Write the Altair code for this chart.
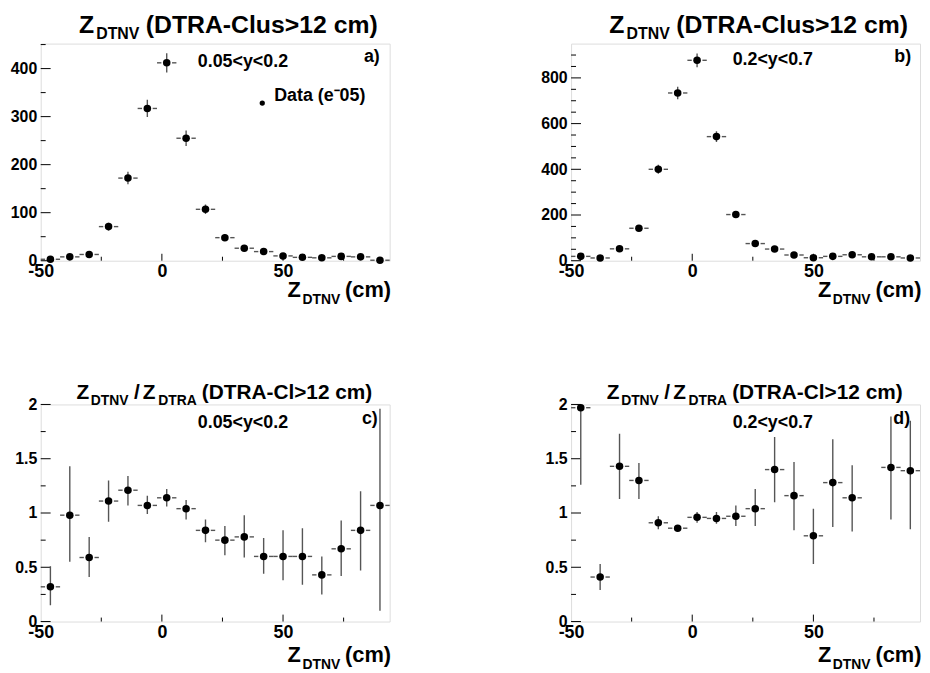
import altair as alt
import pandas as pd

FONT = "Liberation Sans"
ERR = "#555555"

# ---------------- data ----------------
z_bins = [-46, -38, -30, -22, -14, -6, 2, 10, 18, 26, 34, 42, 50, 58, 66, 74, 82, 90]
bin_half = 4
gap = 2.2

counts_a = [3, 8, 13, 71, 172, 317, 412, 255, 107, 48, 26, 19, 10, 7, 6, 9, 8, 1]
err_a = [2, 3, 4, 8, 13, 18, 20, 16, 10, 7, 5, 4, 3, 3, 2, 3, 3, 1]

counts_b = [19, 12, 52, 142, 400, 734, 877, 543, 202, 75, 51, 25, 13, 19, 26, 17, 17, 12]
err_b = [4, 3, 7, 12, 20, 27, 30, 23, 14, 9, 7, 5, 4, 4, 5, 4, 4, 3]

ratio_c = [0.32, 0.98, 0.59, 1.11, 1.21, 1.07, 1.14, 1.04, 0.84, 0.75, 0.78, 0.60, 0.60, 0.60, 0.43, 0.67, 0.84, 1.07]
lo_c = [0.15, 0.55, 0.41, 0.92, 1.07, 0.99, 1.06, 0.94, 0.73, 0.61, 0.59, 0.44, 0.38, 0.34, 0.25, 0.42, 0.47, 0.10]
hi_c = [0.51, 1.43, 0.78, 1.30, 1.34, 1.16, 1.22, 1.12, 0.94, 0.88, 0.98, 0.77, 0.84, 0.86, 0.60, 0.93, 1.20, 1.96]

ratio_d = [1.97, 0.41, 1.43, 1.30, 0.91, 0.86, 0.96, 0.95, 0.97, 1.04, 1.40, 1.16, 0.79, 1.28, 1.14, None, 1.42, 1.39]
lo_d = [1.26, 0.29, 1.13, 1.13, 0.85, 0.84, 0.91, 0.90, 0.88, 0.88, 1.10, 0.84, 0.53, 0.87, 0.83, None, 0.94, 0.85]
hi_d = [2.00, 0.53, 1.73, 1.46, 0.97, 0.88, 1.01, 1.01, 1.07, 1.22, 1.70, 1.47, 1.04, 1.68, 1.44, None, 1.89, 1.85]

x_labels = [-50, 0, 50]
x_major_ticks = [0, 50]
x_minor_ticks = [-25, 25, 75]

y_labels_a = [0, 100, 200, 300, 400]
y_minor_a = [50, 150, 250, 350, 450]
y_labels_b = [0, 200, 400, 600, 800]
y_minor_b = [50, 100, 150, 250, 300, 350, 450, 500, 550, 650, 700, 750, 850, 900]
y_labels_r = [0, 0.5, 1, 1.5, 2]
y_minor_r = [0.25, 0.75, 1.25, 1.75]

W, H = 352, 219
XDOM = [-50, 94]


def txt(s, x, y, size, align="left"):
    return alt.Chart(pd.DataFrame({"t": [s]})).mark_text(
        font=FONT, fontSize=size, fontWeight="bold", align=align,
        baseline="alphabetic", color="black"
    ).encode(text="t:N", x=alt.value(x), y=alt.value(y))


def panel(vals, lo, hi, ydom, ylabels, ymajor, yminor, texts):
    df = pd.DataFrame({"z": z_bins, "v": vals, "lo": lo, "hi": hi}).dropna()
    df["l1"] = df["z"] - bin_half
    df["l2"] = df["z"] - gap
    df["r1"] = df["z"] + gap
    df["r2"] = df["z"] + bin_half

    xs = alt.Scale(domain=XDOM, nice=False, zero=False)
    ys = alt.Scale(domain=ydom, nice=False, zero=False)
    xax = alt.Axis(values=x_labels, title=None, ticks=False, domain=False, grid=False,
                   labelFont=FONT, labelFontSize=18, labelFontWeight="bold",
                   labelColor="black", labelPadding=2, labelFlush=False,
                   labelOverlap=False, labelBound=False, labelExpr="'' + datum.value")
    yax = alt.Axis(values=ylabels, title=None, ticks=False, domain=False,
                   grid=False, labelFont=FONT, labelFontSize=16, labelFontWeight="bold",
                   labelColor="black", labelPadding=4, labelFlush=False,
                   labelOverlap=False, labelBound=False, labelExpr="'' + datum.value")

    def X(f):
        return alt.X(f"{f}:Q", scale=xs, axis=xax)

    def Y(f):
        return alt.Y(f"{f}:Q", scale=ys, axis=yax)

    base = alt.Chart(df)
    vbar = base.mark_rule(color=ERR, strokeWidth=1.4, clip=True).encode(
        x=X("z"), y=Y("lo"), y2="hi:Q")
    hl = base.mark_rule(color=ERR, strokeWidth=1.4).encode(x=X("l1"), x2="l2:Q", y=Y("v"))
    hr = base.mark_rule(color=ERR, strokeWidth=1.4).encode(x=X("r1"), x2="r2:Q", y=Y("v"))
    pts = base.mark_circle(size=58, color="black", opacity=1).encode(x=X("z"), y=Y("v"))

    xt_maj = alt.Chart(pd.DataFrame({"k": x_major_ticks})).mark_rule(
        color="black", strokeWidth=1).encode(x=X("k"), y=alt.value(H), y2=alt.value(H - 7))
    xt_min = alt.Chart(pd.DataFrame({"k": x_minor_ticks})).mark_rule(
        color="black", strokeWidth=1).encode(x=X("k"), y=alt.value(H), y2=alt.value(H - 4))
    yt_maj = alt.Chart(pd.DataFrame({"k": ymajor})).mark_rule(
        color="black", strokeWidth=1).encode(y=Y("k"), x=alt.value(0), x2=alt.value(10))
    yt_min = alt.Chart(pd.DataFrame({"k": yminor})).mark_rule(
        color="black", strokeWidth=1).encode(y=Y("k"), x=alt.value(0), x2=alt.value(5))

    layers = [xt_maj, xt_min, yt_maj, yt_min, vbar, hl, hr, pts] + texts
    return alt.layer(*layers).properties(width=W, height=H)


def top_title():
    return [
        txt("Z", 38.5, -11, 25),
        txt("DTNV", 56, -5, 16),
        txt("(DTRA-Clus>12 cm)", 106, -11, 25),
    ]


def bottom_title():
    return [
        txt("Z", 36, -5, 21),
        txt("DTNV", 50.5, 1, 14),
        txt("/", 94, -5, 21),
        txt("Z", 103, -5, 21),
        txt("DTRA", 118.5, 1, 14),
        txt("(DTRA-Cl>12 cm)", 162.5, -5, 21),
    ]


def axis_title(dy):
    return [
        txt("Z", 249, H + dy, 22),
        txt("DTNV", 264, H + dy + 7, 14),
        txt("(cm)", 307, H + dy, 22),
    ]


legend_dot = alt.Chart(pd.DataFrame({"t": ["Data (e⁻05)"]})).mark_circle(
    size=28, color="black", opacity=1).encode(x=alt.value(223.5), y=alt.value(60))

pa = panel(counts_a, [c - e for c, e in zip(counts_a, err_a)],
           [c + e for c, e in zip(counts_a, err_a)], [0, 452],
           y_labels_a, y_labels_a, y_minor_a,
           top_title() + axis_title(37) + [
               txt("0.05<y<0.2", 158.5, 24, 18),
               txt("a)", 342, 19, 18, align="right"),
               legend_dot,
               txt("Data (e⁻05)", 235.5, 58, 18),
           ])

pb = panel(counts_b, [c - e for c, e in zip(counts_b, err_b)],
           [c + e for c, e in zip(counts_b, err_b)], [0, 950],
           y_labels_b, y_labels_b, y_minor_b,
           top_title() + axis_title(37) + [
               txt("0.2<y<0.7", 163, 22, 18),
               txt("b)", 343, 19, 18, align="right"),
           ])

pc = panel(ratio_c, lo_c, hi_c, [0, 2], y_labels_r, y_labels_r, y_minor_r,
           bottom_title() + axis_title(41) + [
               txt("0.05<y<0.2", 158.5, 24, 18),
               txt("c)", 340, 20, 18, align="right"),
           ])

pd_ = panel(ratio_d, lo_d, hi_d, [0, 2], y_labels_r, y_labels_r, y_minor_r,
            bottom_title() + axis_title(41) + [
                txt("0.2<y<0.7", 163, 24, 18),
                txt("d)", 342, 20, 18, align="right"),
            ])

chart = alt.concat(pa, pb, pc, pd_, columns=2, spacing={"row": 145, "column": 183},
                   bounds="flush").properties(
    padding={"left": 1, "top": 1, "right": 0, "bottom": 0}
).configure_view(stroke="black", strokeWidth=1.4).configure(background="white")

chart.save("out.html", embed_options={"renderer": "svg", "actions": False})
